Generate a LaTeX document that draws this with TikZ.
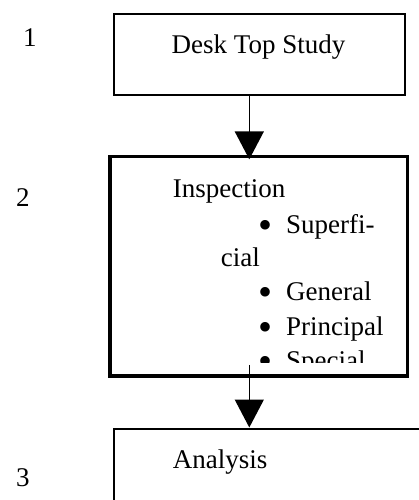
\documentclass[tikz,border=0pt]{standalone}
\usepackage{fontspec}
\setmainfont{Liberation Serif}
\usetikzlibrary{arrows.meta}

\begin{document}
\begin{tikzpicture}[x=1pt, y=-1pt, font=\fontsize{27}{34}\selectfont,
    flow/.style={-{Triangle[width=29pt, length=28pt]}, line width=1.5pt},
    stage/.style={draw, line width=2pt, inner sep=0pt},
    txt/.style={inner sep=0pt, anchor=base west},
    dot/.style={inner sep=0pt, anchor=base, font=\fontsize{40}{40}\selectfont}]
    \useasboundingbox (0,0) rectangle (419,500);
    \clip (0,0) rectangle (419,500);
    % stage boxes
    \node[stage, minimum width=291.5pt, minimum height=80.9pt] (desk) at (259.25,54.25) {};
    \node[stage, line width=3.3pt, minimum width=297.5pt, minimum height=219.5pt] (insp) at (258.75,266.25) {};
    \node[stage, minimum width=320pt, minimum height=100pt] (anal) at (274,478.5) {};
    % step numbers
    \node[txt, anchor=base] (num1) at (30,47) {1};
    \node[txt, anchor=base] (num2) at (23,206) {2};
    \node[txt, anchor=base] (num3) at (23,486) {3};
    % box texts
    \node[txt, anchor=base] (deskT) at (258.5,53.3) {Desk Top Study};
    \node[txt] (analT) at (172.7,468) {Analysis};
    \begin{scope}
        \clip (insp.north west) rectangle ([yshift=15pt]insp.south east);
        \node[txt] (inspT) at (172.7,197) {Inspection};
        \node[dot] (bulA) at (265,238.4) {\smash{•}};
        \node[txt] (supT) at (286,233) {Superfi-};
        \node[txt] (cialT) at (220.7,266.7) {cial};
        \node[dot] (bulB) at (265,305.9) {\smash{•}};
        \node[txt] (genT) at (286,300.5) {General};
        \node[dot] (bulC) at (265,340.4) {\smash{•}};
        \node[txt] (priT) at (286,335) {Principal};
        \node[dot] (bulD) at (265,374.9) {\smash{•}};
        \node[txt] (speT) at (286,369.5) {Special};
    \end{scope}
    % arrows
    \coordinate (axis) at (249.3,0);
    \draw[flow] (axis |- desk.south) -- ([yshift=-4.5pt]axis |- insp.north);
    \draw[flow] ([yshift=12.7pt]axis |- insp.south) -- (axis |- anal.north);
\end{tikzpicture}
\end{document}
